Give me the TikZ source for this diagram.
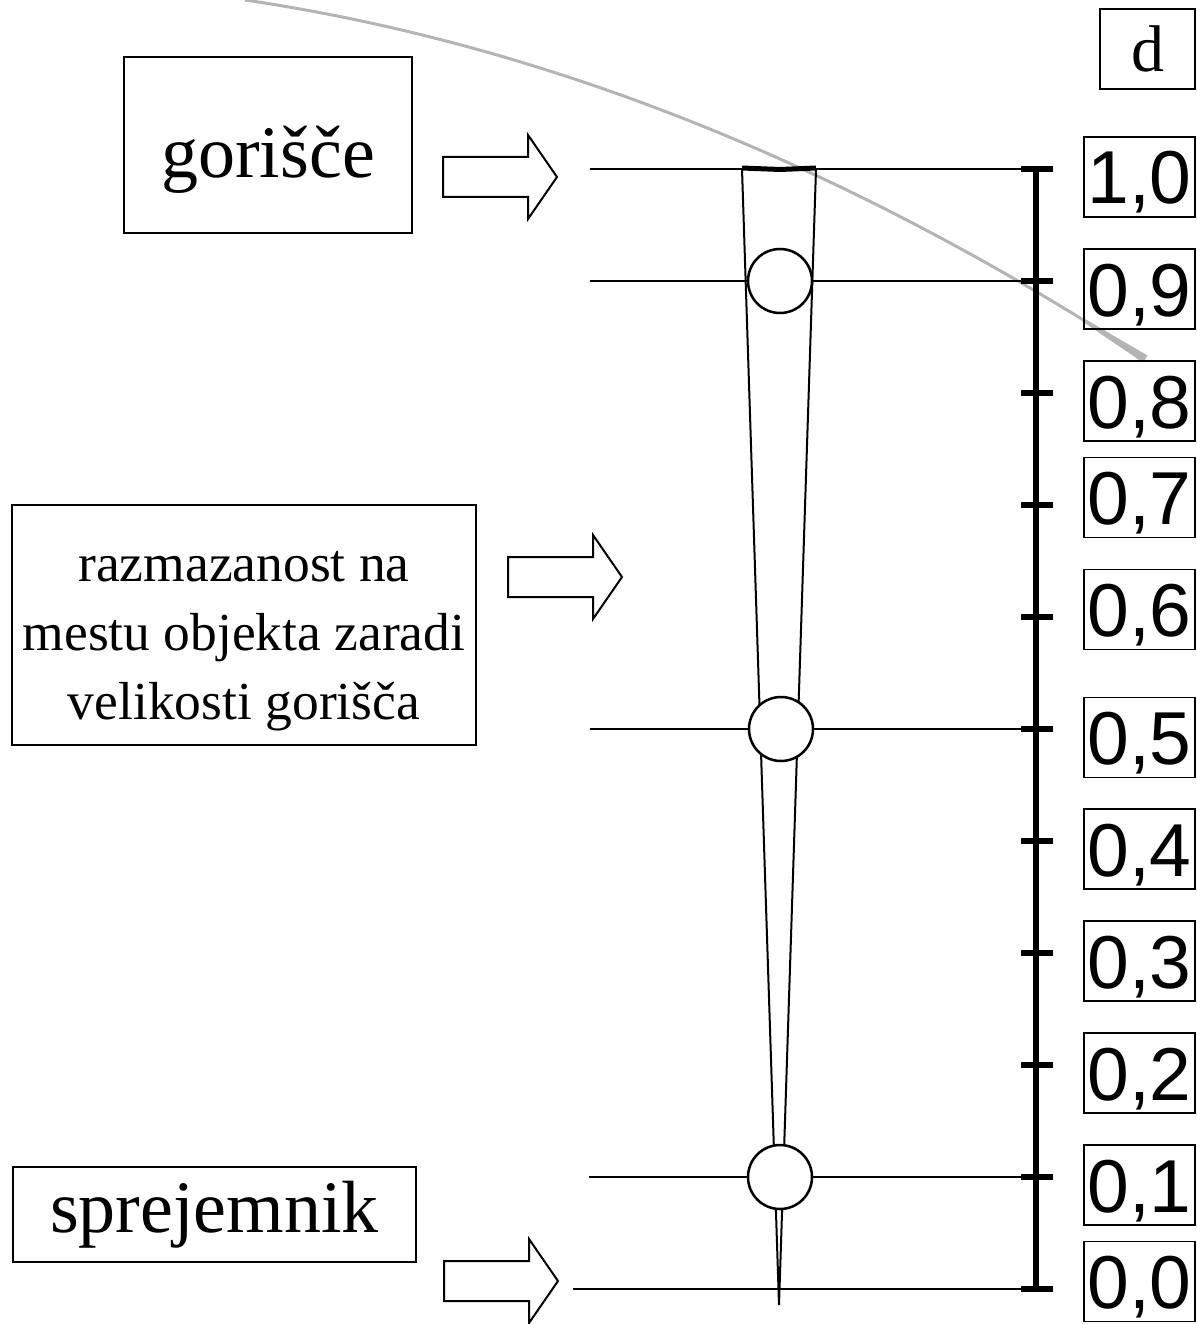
\documentclass[tikz,border=0pt]{standalone}
\usepackage{fontspec}
\setmainfont{Liberation Serif}
\newfontfamily\digitfont{Liberation Sans}
\definecolor{arcgray}{RGB}{180,180,180}
\tikzset{
  thinline/.style={line width=2pt},
  labelbox/.style={draw, line width=2pt, inner sep=0pt, align=center},
  valbox/.style={draw, line width=1.6pt, minimum width=111pt, minimum height=80pt, inner sep=0pt,
    font=\digitfont\fontsize{75}{75}\selectfont, text height=54pt, text depth=0pt},
  tickmark/.style={line width=6pt},
  dotcircle/.style={circle, draw, fill=white, line width=2.5pt, minimum size=64pt, inner sep=0pt},
  blockarrow/.pic={\draw[line width=2pt, line join=miter, fill=white]
     (0,-20) -- (85,-20) -- (85,-42) -- (114,0) -- (85,42) -- (85,20) -- (0,20) -- cycle;}
}
\begin{document}
\begin{tikzpicture}[x=1pt,y=-1pt]
\useasboundingbox (0,0) rectangle (1196,1324);

% gray arc
\coordinate (arcA) at (245,0);
\coordinate (arcB) at (1083,319.8);
\draw[arcgray, line width=3pt] (arcA) .. controls (524.3,41.3) and (803.7,148.0) .. (arcB);
\fill[arcgray] (1083.8,318.3) -- (1147.5,355.5) -- (1143,362.5) -- (1082.2,321.3) -- cycle;

% left label boxes
\node[labelbox, minimum width=288pt, minimum height=176pt,
  font=\fontsize{74}{74}\selectfont, text height=82pt, text depth=16pt] (gor) at (268,145) {gorišče};
\node[labelbox, minimum width=464pt, minimum height=240pt] (raz) at (244,625) {};
\node[align=center, inner sep=0pt, font=\fontsize{53.5}{69}\selectfont] (raztext) at (244,641)
  {razmazanost na\\mestu objekta zaradi\\velikosti gorišča};
\node[labelbox, minimum width=403pt, minimum height=95pt,
  font=\fontsize{74}{74}\selectfont] (spr) at (214.5,1214.5) {sprejemnik};

% block arrows
\pic at (443,177) {blockarrow};
\pic at (508,577) {blockarrow};
\pic at (444,1281) {blockarrow};

% horizontal level lines
\coordinate (L10) at (590,169);  \coordinate (S10) at (1036,169);
\coordinate (L09) at (590,281);  \coordinate (S09) at (1036,281);
\coordinate (L05) at (590,729);  \coordinate (S05) at (1036,729);
\coordinate (L01) at (589,1177); \coordinate (S01) at (1036,1177);
\coordinate (L00) at (573,1289); \coordinate (S00) at (1036,1289);
\foreach \a/\b in {L10/S10,L09/S09,L05/S05,L01/S01,L00/S00}
  \draw[thinline] (\a) -- (\b);

% cone
\coordinate (coneL) at (742,169);
\coordinate (coneR) at (816,169);
\coordinate (tip) at (779,1305);
\draw[thinline, line join=miter] (coneL) -- (tip) -- (coneR);
\draw[line width=5pt] (742,168) -- (780,169.5) -- (816,168);

% circles
\node[dotcircle] (c09) at (780,281) {};
\node[dotcircle] (c05) at (781,729) {};
\node[dotcircle] (c01) at (780,1177) {};

% scale
\coordinate (scTop) at (1036,169);
\coordinate (scBot) at (1036,1289);
\draw[line width=6pt] (scTop) -- (scBot);
\foreach \y in {169,281,393,505,617,729,841,953,1065,1177,1289}
  \draw[tickmark] (1021,\y) -- (1053,\y);

% value boxes
\node[draw, line width=1.6pt, minimum width=95pt, minimum height=80pt, inner sep=0pt,
  font=\fontsize{66}{66}\selectfont] (dbox) at (1147.5,49) {d};
\foreach \v/\y in {1{,}0/177, 0{,}9/289, 0{,}8/401, 0{,}7/497.5, 0{,}6/609.5, 0{,}5/737.5,
                   0{,}4/849, 0{,}3/961, 0{,}2/1073, 0{,}1/1185, 0{,}0/1281.5}
  \node[valbox] at (1139.5,\y) {\v};
\end{tikzpicture}
\end{document}
